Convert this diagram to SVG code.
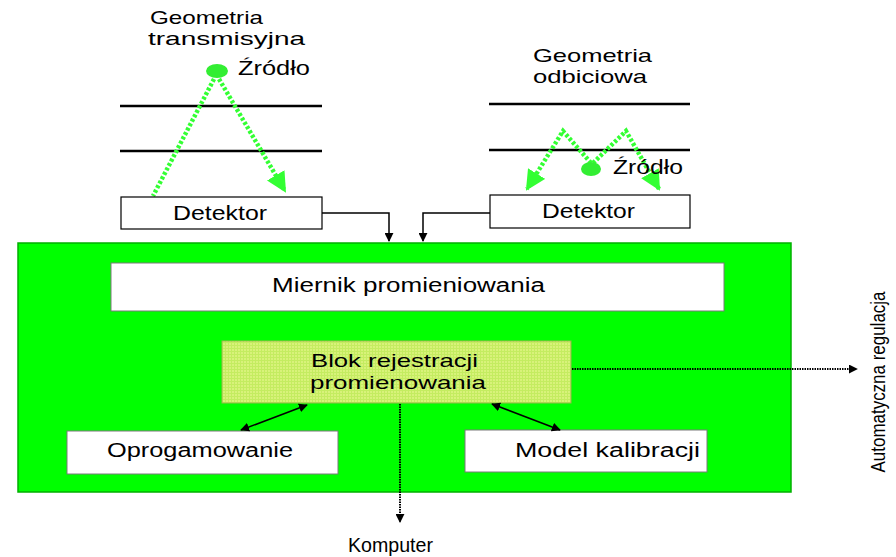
<svg xmlns="http://www.w3.org/2000/svg" width="896" height="557" viewBox="0 0 896 557">
<style>
text{font-family:"Liberation Sans",Arial,sans-serif;fill:#000;font-size:20px;}
.sm{font-size:18.5px;}
.box{fill:#fff;stroke:#000;stroke-width:1.2;}
.wbox{fill:#fff;stroke:#7a7a7a;stroke-width:1;}
.layer{stroke:#000;stroke-width:2.5;}
.ray{fill:none;stroke:#33ff33;stroke-width:4.5;stroke-dasharray:3 2;}
.conn{fill:none;stroke:#000;stroke-width:1.5;}
.dot{fill:none;stroke:#000;stroke-width:2;stroke-dasharray:1.5 1;}
</style>
<defs>
<marker id="ga" viewBox="0 0 10 10" refX="9" refY="5" markerWidth="4.5" markerHeight="4.5" orient="auto" markerUnits="strokeWidth"><path d="M0,0 L10,5 L0,10 z" fill="#33ff33"/></marker>
<marker id="ba" viewBox="0 0 10 10" refX="9" refY="5" markerWidth="9" markerHeight="9" orient="auto" markerUnits="userSpaceOnUse"><path d="M0,0 L10,5 L0,10 z" fill="#000"/></marker>
<marker id="bs" viewBox="0 0 10 10" refX="1" refY="5" markerWidth="9" markerHeight="9" orient="auto" markerUnits="userSpaceOnUse"><path d="M10,0 L0,5 L10,10 z" fill="#000"/></marker>
<pattern id="grid" width="3" height="3" patternUnits="userSpaceOnUse"><rect width="3" height="3" fill="#d8f27a"/><path d="M0,0.5 H3 M0.5,0 V3" stroke="#c4ec60" stroke-width="1"/></pattern>
</defs>

<g id="transmission">
<text class="sm" x="150" y="24" textLength="113" lengthAdjust="spacingAndGlyphs">Geometria</text>
<text class="sm" x="148" y="45" textLength="157" lengthAdjust="spacingAndGlyphs">transmisyjna</text>
<ellipse cx="217" cy="71" rx="11" ry="7" fill="#33ee33"/>
<text x="238" y="75" textLength="72" lengthAdjust="spacingAndGlyphs">Źródło</text>
<line class="layer" x1="120" y1="106" x2="322" y2="106"/>
<line class="layer" x1="120" y1="151" x2="322" y2="151"/>
<path class="ray" d="M214,79 L153,196"/>
<path class="ray" d="M219,79 L285,191" marker-end="url(#ga)"/>
</g>

<g id="det-left">
<rect class="box" x="121" y="197" width="201" height="32"/>
<text x="173" y="220" textLength="94" lengthAdjust="spacingAndGlyphs">Detektor</text>
</g>

<g id="reflection">
<text class="sm" x="533" y="62" textLength="119" lengthAdjust="spacingAndGlyphs">Geometria</text>
<text class="sm" x="533" y="83" textLength="114" lengthAdjust="spacingAndGlyphs">odbiciowa</text>
<line class="layer" x1="489" y1="104" x2="690" y2="104"/>
<line class="layer" x1="489" y1="150" x2="690" y2="150"/>
<path class="ray" d="M591,163 L563,131 L527,189" marker-end="url(#ga)"/>
<path class="ray" d="M593,163 L626,131 L659,189" marker-end="url(#ga)"/>
<ellipse cx="591" cy="169" rx="10" ry="7" fill="#33ee33"/>
<text x="613" y="174" textLength="70" lengthAdjust="spacingAndGlyphs">Źródło</text>
</g>

<g id="det-right">
<rect class="box" x="490" y="195" width="200" height="33"/>
<text x="542" y="218" textLength="93" lengthAdjust="spacingAndGlyphs">Detektor</text>
</g>

<g id="system">
<rect x="18" y="243" width="773" height="249" fill="#00ff00" stroke="#00b000" stroke-width="1.5"/>
</g>

<g id="miernik">
<rect class="wbox" x="111" y="263" width="613" height="48"/>
<text x="272" y="292" textLength="273" lengthAdjust="spacingAndGlyphs">Miernik promieniowania</text>
</g>

<g id="blok">
<rect x="222" y="341" width="349" height="62" fill="url(#grid)" stroke="#9ab84a" stroke-width="1"/>
<text class="sm" x="311" y="367" textLength="167" lengthAdjust="spacingAndGlyphs">Blok rejestracji</text>
<text class="sm" x="310" y="389" textLength="176" lengthAdjust="spacingAndGlyphs">promienowania</text>
</g>

<g id="oprog">
<rect class="wbox" x="67" y="431" width="271" height="43"/>
<text x="107" y="457" textLength="186" lengthAdjust="spacingAndGlyphs">Oprogamowanie</text>
</g>

<g id="model">
<rect class="wbox" x="465" y="430" width="242" height="42"/>
<text x="515" y="457" textLength="185" lengthAdjust="spacingAndGlyphs">Model kalibracji</text>
</g>

<g id="connectors">
<path class="conn" d="M322,213 H389 V241" marker-end="url(#ba)"/>
<path class="conn" d="M490,213 H423 V241" marker-end="url(#ba)"/>
<line class="conn" x1="307" y1="405" x2="241" y2="430" marker-start="url(#bs)" marker-end="url(#ba)"/>
<line class="conn" x1="492" y1="404" x2="560" y2="430" marker-start="url(#bs)" marker-end="url(#ba)"/>
<line class="dot" x1="400" y1="404" x2="400" y2="522" marker-end="url(#ba)"/>
<line class="dot" x1="572" y1="369" x2="857" y2="369" marker-end="url(#ba)"/>
</g>

<g id="labels">
<text x="348" y="552" textLength="85" lengthAdjust="spacingAndGlyphs">Komputer</text>
<text x="0" y="0" text-anchor="middle" font-size="20" textLength="181" lengthAdjust="spacingAndGlyphs" transform="translate(885,382) rotate(-90)">Automatyczna regulacja</text>
</g>
</svg>
